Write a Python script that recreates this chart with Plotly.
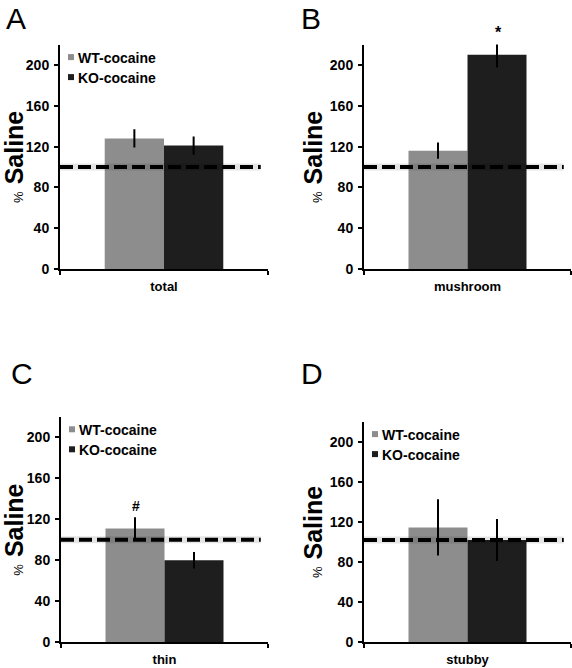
import plotly.graph_objects as go

W, H = 572, 668

# ---- data ----
panel_letters = ["A", "B", "C", "D"]
categories = ["total", "mushroom", "thin", "stubby"]
series_names = ["WT-cocaine", "KO-cocaine"]
wt_values = [128, 116, 111, 114.5]
wt_errors = [9, 8, 11, 28]
ko_values = [121, 210, 80, 102]
ko_errors = [9, 12.5, 8, 21]
baseline = [100, 100, 100, 102]
y_ticks = [0, 40, 80, 120, 160, 200]
significance = ["", "*", "#", ""]
show_legend = [True, False, True, True]

# ---- style ----
FONT = "Liberation Sans, Arial, sans-serif"
colors = ["#8d8d8d", "#1e1e1e"]
# plot areas in pixels: (left, right, top, bottom)
boxes = [(60, 268, 44.6, 269), (364, 571, 44.6, 269),
         (61, 268, 416.8, 642.3), (364, 571, 421.6, 642.3)]
letter_pos = [(16, 0), (311, 0), (22, 355), (312, 355)]
mark_pos = [None, (498, 32), (136, 506), None]


def px(x):
    return x / W


def py(y):
    return 1 - y / H


fig = go.Figure()
shapes, annotations = [], []

for i in range(4):
    l, r, t, b = boxes[i]
    xa = "x" if i == 0 else f"x{i+1}"
    ya = "y" if i == 0 else f"y{i+1}"
    vals = [wt_values[i], ko_values[i]]
    errs = [wt_errors[i], ko_errors[i]]
    for k in range(2):
        fig.add_trace(go.Bar(
            x=[categories[i]], y=[vals[k]], name=series_names[k],
            marker=dict(color=colors[k], line=dict(width=0)),
            error_y=dict(type="data", array=[errs[k]], color="black",
                         thickness=2, width=0),
            xaxis=xa, yaxis=ya, showlegend=False, offsetgroup=str(k),
        ))
    suffix = "" if i == 0 else str(i + 1)
    fig.update_layout(**{
        f"xaxis{suffix}": dict(
            domain=[px(l), px(r)], anchor=ya, type="category", automargin=False,
            range=[-0.5, 0.5], showline=True, linecolor="black", linewidth=2,
            ticks="outside", ticklen=4, tickwidth=2, tickcolor="black",
            tickson="boundaries", showgrid=False, zeroline=False,
            ticklabelstandoff=4,
            tickfont=dict(family=FONT, size=13, color="black", weight="bold"),
        ),
        f"yaxis{suffix}": dict(
            domain=[py(b), py(t)], anchor=xa, range=[0, 220], automargin=False,
            tickvals=y_ticks, showline=True, linecolor="black", linewidth=2,
            ticks="outside", ticklen=4, tickwidth=2, tickcolor="black",
            showgrid=False, zeroline=False, ticklabelstandoff=2,
            tickfont=dict(family=FONT, size=14, color="black", weight="bold"),
            title=dict(
                text="<span style='font-size:13px;font-weight:normal'>%</span> Saline",
                font=dict(family=FONT, size=25, color="black", weight="bold"),
                standoff=0,
            ),
        ),
    })
    # baseline dashed line with soft shadow
    xd = f"{xa} domain"
    shapes.append(dict(type="line", xref=xd, yref=ya, x0=0, x1=0.965,
                       y0=baseline[i], y1=baseline[i], layer="above",
                       line=dict(color="rgba(0,0,0,0.10)", width=7)))
    shapes.append(dict(type="line", xref=xd, yref=ya, x0=0, x1=0.965,
                       y0=baseline[i], y1=baseline[i], layer="above",
                       line=dict(color="black", width=4, dash="13px,5px")))
    # panel letter
    annotations.append(dict(text=panel_letters[i], xref="paper", yref="paper",
                            x=px(letter_pos[i][0]), y=py(letter_pos[i][1]),
                            showarrow=False, xanchor="center", yanchor="top",
                            font=dict(family=FONT, size=30, color="black")))
    # significance marks
    if significance[i]:
        mx, my = mark_pos[i]
        annotations.append(dict(text=significance[i], xref="paper", yref="paper",
                                x=px(mx), y=py(my), showarrow=False,
                                xanchor="center", yanchor="middle",
                                font=dict(family=FONT, size=16 if significance[i] == "*" else 14,
                                          color="black", weight="bold")))
    # legend
    if show_legend[i]:
        for k in range(2):
            cy = t + 12 + 20 * k
            shapes.append(dict(type="rect", xref="paper", yref="paper",
                               x0=px(l + 8), x1=px(l + 14),
                               y0=py(cy - 2.5), y1=py(cy + 3.5),
                               fillcolor=colors[k], line=dict(width=0)))
            annotations.append(dict(text=series_names[k], xref="paper", yref="paper",
                                    x=px(l + 16), y=py(cy + 1.5), showarrow=False,
                                    xanchor="left", yanchor="middle",
                                    font=dict(family=FONT, size=14, color="black",
                                              weight="bold")))

fig.update_layout(
    width=W, height=H, margin=dict(l=0, r=0, t=0, b=0),
    paper_bgcolor="white", plot_bgcolor="white",
    barmode="group", bargap=0.43, bargroupgap=0,
    shapes=shapes, annotations=annotations, showlegend=False,
)

fig.write_html(
    "out.html",
    config={"displayModeBar": False},
    post_script="document.body.style.margin='0px';"
                "document.documentElement.style.overflow='hidden';",
)
